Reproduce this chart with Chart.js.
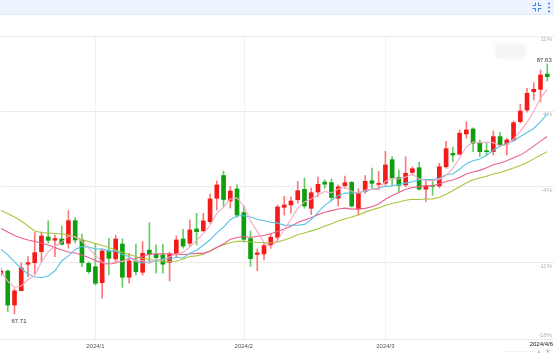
<!DOCTYPE html>
<html><head><meta charset="utf-8">
<script src="https://cdn.jsdelivr.net/npm/chart.js@4.4.1/dist/chart.umd.min.js"></script>
<style>
html,body{margin:0;padding:0;background:#fff;width:554px;height:353px;overflow:hidden;font-family:"Liberation Sans",Arial,sans-serif;}
#bar{position:absolute;left:0;top:0;width:554px;height:15px;background:#edf4fd;border-bottom:1px solid #e2ebf8;box-sizing:border-box;}
#wrap{position:absolute;left:0;top:15px;width:554px;height:338px;}
</style></head><body>
<div id="bar">
<svg width="10" height="10" style="position:absolute;left:532px;top:2px" viewBox="0 0 10 10">
<g fill="none" stroke="#3d7fe0" stroke-width="1">
<path d="M3.5 0.5V3.5H0.5"/><path d="M6.5 0.5V3.5H9.5"/><path d="M3.5 9.5V6.5H0.5"/><path d="M6.5 9.5V6.5H9.5"/>
</g></svg>
<svg width="4" height="11" style="position:absolute;left:547px;top:2px" viewBox="0 0 4 11">
<g fill="#3d7fe0"><circle cx="2" cy="1.5" r="1"/><circle cx="2" cy="5.5" r="1"/><circle cx="2" cy="9.5" r="1"/></g></svg>
</div>
<div id="wrap"><canvas id="c"></canvas></div>
<script>
const dates = ['2023/12/11','2023/12/12','2023/12/13','2023/12/14','2023/12/15','2023/12/18','2023/12/19','2023/12/20','2023/12/21','2023/12/22','2023/12/26','2023/12/27','2023/12/28','2023/12/29',
'2024/1/2','2024/1/3','2024/1/4','2024/1/5','2024/1/8','2024/1/9','2024/1/10','2024/1/11','2024/1/12','2024/1/15','2024/1/16','2024/1/17','2024/1/18','2024/1/19','2024/1/22','2024/1/23','2024/1/24','2024/1/25','2024/1/26','2024/1/29','2024/1/30','2024/1/31',
'2024/2/1','2024/2/2','2024/2/5','2024/2/6','2024/2/7','2024/2/8','2024/2/9','2024/2/12','2024/2/13','2024/2/14','2024/2/15','2024/2/16','2024/2/19','2024/2/20','2024/2/21','2024/2/22','2024/2/23','2024/2/26','2024/2/27','2024/2/28','2024/2/29',
'2024/3/1','2024/3/4','2024/3/5','2024/3/6','2024/3/7','2024/3/8','2024/3/11','2024/3/12','2024/3/13','2024/3/14','2024/3/15','2024/3/18','2024/3/19','2024/3/20','2024/3/21','2024/3/22','2024/3/25','2024/3/26','2024/3/27','2024/3/28',
'2024/4/1','2024/4/2','2024/4/3','2024/4/4','2024/4/6'];

const opens = [70.89,71.13,68.42,69.56,71.67,71.79,72.67,73.84,73.58,73.68,
73.34,75.14,73.60,71.74,71.47,70.20,72.73,72.09,73.28,70.63,
71.93,71.03,72.80,72.46,72.41,71.82,72.49,73.68,73.34,74.48,
74.34,75.06,76.93,78.74,76.71,77.67,75.78,73.71,72.45,72.49,
73.20,73.82,76.21,76.39,76.81,77.64,76.13,77.43,78.22,78.18,
76.93,77.93,78.20,76.07,77.48,78.32,78.03,78.12,80.00,78.58,
77.99,78.98,79.36,77.65,77.96,77.91,79.44,80.51,80.44,82.05,
82.45,81.36,80.72,80.64,81.84,81.23,81.57,83.03,83.96,85.42,
85.61,86.83];
const highs = [71.37,71.21,69.70,71.77,72.27,74.20,74.24,75.12,74.00,74.72,
75.94,75.38,74.08,71.87,73.26,72.86,73.74,74.00,73.68,72.54,
73.28,73.47,74.98,73.20,73.28,72.62,73.94,74.45,75.20,75.73,
75.73,77.27,78.30,79.10,77.87,77.99,76.31,74.32,72.88,73.34,
74.08,76.39,77.08,77.05,78.28,78.54,77.75,78.62,78.41,78.46,
77.99,78.69,78.25,77.69,78.74,79.34,79.08,80.67,80.24,79.18,
80.24,79.42,79.82,78.30,78.41,79.71,81.47,81.01,82.37,83.03,
82.55,81.57,81.31,82.29,82.19,81.71,83.09,84.42,85.69,86.14,
87.15,87.63];
const lows = [70.73,67.89,67.71,69.54,70.68,70.89,71.87,73.36,72.27,73.20,
72.96,73.36,71.47,70.95,70.02,68.96,70.81,71.87,69.83,70.15,
70.81,70.81,71.87,70.95,70.95,70.33,72.27,72.94,73.07,73.20,
74.26,74.93,75.99,76.26,76.15,75.40,73.44,71.49,71.16,72.01,
72.94,73.52,75.59,75.73,76.53,76.13,75.63,77.05,77.72,76.71,
76.31,77.72,76.23,75.62,77.32,77.67,77.59,77.96,77.91,77.47,
77.85,78.78,77.59,76.67,77.16,77.75,79.32,79.84,80.38,81.71,
80.64,80.24,80.38,80.38,81.04,80.38,81.49,82.90,83.78,84.76,
84.62,86.27];
const closes = [71.13,68.42,69.54,71.37,71.79,72.59,73.92,73.58,73.71,73.26,
75.14,73.60,71.79,71.08,70.15,72.73,72.14,73.68,70.63,71.93,
71.08,72.54,72.46,72.19,71.67,72.49,73.60,73.12,74.40,74.26,
75.12,76.87,77.99,76.83,77.51,75.59,73.66,72.11,72.57,73.15,
73.82,76.23,76.39,76.71,77.53,76.31,77.37,78.04,78.05,76.99,
77.83,78.17,76.31,77.35,78.28,78.12,78.09,79.58,78.54,77.96,
78.92,79.28,77.65,77.92,77.88,79.44,80.88,80.38,82.11,82.37,
81.31,80.64,80.64,81.84,81.17,81.57,82.95,83.88,85.29,85.61,
86.75,86.62];

const ma5Head = [71.05,70.33,69.82,69.94];
const ma10Head = [72.88,72.41,71.85,71.33,70.89,70.65,70.61,70.73,71.15];
const ma20Head = [74.52,74.24,73.96,73.76,73.60,73.48,73.36,73.20,73.00,72.80,72.64,72.57,72.41,72.21,71.97,71.77,71.69,71.77,71.93];
const ma30Head = [75.95,75.71,75.44,75.12,74.72,74.32,74.20,74.16,74.12,74.08,74.00,73.84,73.64,73.48,73.32,73.16,73.00,72.80,72.61,72.45,72.29,72.13,72.05,71.97,71.89,71.89,71.93,72.09,72.29];

const yTickValues = [65.71, 71.77, 77.83, 83.88, 89.86];
const yTickLabels = ['-18%','-11%','-4%','4%','11%'];
const xTickLabels = ['2024/1','2024/2','2024/3'];

function movingAvg(n, head){
  return closes.map((c,i)=>{
    if (i < n-1) return head[i];
    let s = 0; for (let k=i-n+1;k<=i;k++) s += closes[k];
    return s/n;
  });
}
const ma5 = movingAvg(5, ma5Head), ma10 = movingAvg(10, ma10Head), ma20 = movingAvg(20, ma20Head), ma30 = movingAvg(30, ma30Head);
const up = closes.map((c,i)=> c >= opens[i]);
const labels = dates.concat(['']);
const xTickIdx = xTickLabels.map(l => dates.findIndex(d => d.startsWith(l + '/')));

const FONT = '6px "Liberation Sans", Arial, sans-serif';
const overlay = {
  id:'overlay',
  beforeDatasetsDraw(chart){
    const {ctx, chartArea:a, scales:{x}} = chart;
    ctx.save();
    ctx.strokeStyle = '#f1f1f1'; ctx.lineWidth = 1;
    xTickIdx.forEach(i=>{
      const px = Math.round(x.getPixelForValue(i)) + 0.5;
      ctx.beginPath(); ctx.moveTo(px, a.top); ctx.lineTo(px, a.bottom); ctx.stroke();
    });
    ctx.fillStyle = '#f4f4f4'; ctx.shadowColor = '#ededed'; ctx.shadowBlur = 6;
    ctx.fillRect(a.right - 58, a.top + 9, 28, 12);
    ctx.restore();
  },
  afterDraw(chart){
    const {ctx, chartArea:a, scales:{x, y}} = chart;
    ctx.save();
    ctx.font = FONT;
    ctx.textBaseline = 'middle';
    ctx.fillStyle = '#b3b3b3'; ctx.textAlign = 'right';
    yTickValues.forEach((v,k)=>{
      const py = y.getPixelForValue(v);
      ctx.fillText(yTickLabels[k], a.right - 2, k === 0 ? py - 3.5 : py + 3.5);
    });
    ctx.fillStyle = '#555'; ctx.textAlign = 'center';
    xTickIdx.forEach((i,k)=> ctx.fillText(xTickLabels[k], x.getPixelForValue(i), a.bottom + 7.5));
    ctx.fillStyle = '#222'; ctx.textAlign = 'right';
    ctx.fillText(dates[dates.length-1], a.right - 1, a.bottom + 5.5);
    // max / min markers
    let hi = 0, lo = 0;
    highs.forEach((v,i)=>{ if (v > highs[hi]) hi = i; });
    lows.forEach((v,i)=>{ if (v < lows[lo]) lo = i; });
    ctx.fillStyle = '#333';
    ctx.textAlign = 'right'; ctx.textBaseline = 'bottom';
    ctx.fillText(highs[hi].toFixed(2), x.getPixelForValue(hi) + 4.5, y.getPixelForValue(highs[hi]) - 1);
    ctx.textAlign = 'left'; ctx.textBaseline = 'top';
    ctx.fillText(lows[lo].toFixed(2), x.getPixelForValue(lo) - 3, y.getPixelForValue(lows[lo]) + 4);
    // scroll arrows bottom right
    ctx.fillStyle = '#c8c8c8'; ctx.font = '5px "DejaVu Sans", sans-serif';
    ctx.textAlign = 'center'; ctx.textBaseline = 'middle';
    ctx.fillText('\u25B2', 539, a.bottom + 12.5);
    ctx.fillText('\u25BC', 548, a.bottom + 12.5);
    ctx.strokeStyle = '#e4e4e4'; ctx.setLineDash([1,1.5]);
    ctx.beginPath(); ctx.moveTo(502, a.bottom + 12.5); ctx.lineTo(535, a.bottom + 12.5); ctx.stroke();
    ctx.restore();
  }
};

const lineDs = (label, data, color) => ({type:'line', label, data, borderColor:color, borderWidth:1.1, pointRadius:0, pointHoverRadius:0, fill:false, tension:0, order:1});

new Chart(document.getElementById('c'), {
  data: {
    labels,
    datasets: [
      lineDs('MA5', ma5, '#f7a8c4'),
      lineDs('MA10', ma10, '#55c4e6'),
      lineDs('MA20', ma20, '#e9608d'),
      lineDs('MA30', ma30, '#a6c63e'),
      {type:'bar', label:'body', data: opens.map((o,i)=>[o, closes[i]]),
        backgroundColor: up.map(u=> u ? '#f31a1a' : '#0e9e0e'), barThickness:4, grouped:false, minBarLength:1, borderSkipped:false, order:5},
      {type:'bar', label:'wick', data: lows.map((l,i)=>[l, highs[i]]),
        backgroundColor: up.map(u=> u ? '#f77' : '#6c6'), barThickness:1, grouped:false, borderSkipped:false, order:6}
    ]
  },
  options: {
    responsive:true, maintainAspectRatio:false, animation:false,
    layout:{padding:{top:21, bottom:14, left:1, right:0}},
    plugins:{legend:{display:false}, tooltip:{enabled:false}},
    events:[],
    scales:{
      x:{type:'category', offset:false, grid:{display:false, drawTicks:false}, border:{display:false}, ticks:{display:false}},
      y:{position:'right', min:65.71, max:89.86,
        afterBuildTicks: s => { s.ticks = yTickValues.map(v => ({value:v})); },
        grid:{color:'#ebebeb', drawTicks:false}, border:{display:false}, ticks:{display:false}}
    }
  },
  plugins:[overlay]
});
</script>
</body></html>
